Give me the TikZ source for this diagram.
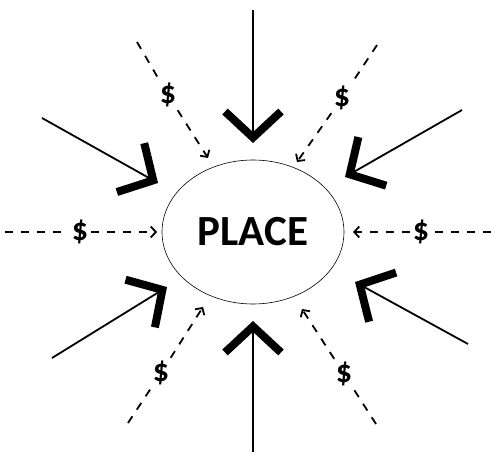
\documentclass[tikz,border=0pt]{standalone}
\usepackage{fontspec}
\setmainfont{Carlito}
\usetikzlibrary{arrows.meta,shapes.geometric}

\begin{document}
\begin{tikzpicture}[
    x=1pt, y=-1pt,
    flow/.style={line width=1.8pt, -{Straight Barb[sharp, length=26pt, width=56pt, line width=8pt]}},
    cash/.style={line width=1.8pt, dash pattern=on 8pt off 8pt, -{Straight Barb[length=5pt, width=11pt, line width=1.8pt]}},
    money/.style={font=\fontsize{32}{32}\selectfont\bfseries, inner sep=3pt}
]
\useasboundingbox (0,0) rectangle (491,452);

\node[draw, ellipse, line width=0.6pt, minimum width=182pt, minimum height=144pt,
      font=\fontsize{43}{43}\selectfont\bfseries] (place) at (253,232) {PLACE};

% solid flows
\coordinate (topS) at (253,10);   \coordinate (topT) at (253,143);
\coordinate (botS) at (253,452);  \coordinate (botT) at (253,321);
\coordinate (ulS) at (42,118);    \coordinate (ulT) at (158,183);
\coordinate (urS) at (462,110);   \coordinate (urT) at (345,177);
\coordinate (llS) at (52,358);    \coordinate (llT) at (167,287);
\coordinate (lrS) at (468,344);   \coordinate (lrT) at (355,282);

\draw[flow] (topS) -- (topT);
\draw[flow] (botS) -- (botT);
\draw[flow] (ulS) -- (ulT);
\draw[flow] (urS) -- (urT);
\draw[flow] (llS) -- (llT);
\draw[flow] (lrS) -- (lrT);

% money flows
\coordinate (lS) at (5,232);     \node[money] (dl) at (80,232) {\$};   \coordinate (lT) at (157,232);
\coordinate (rS) at (491,232);   \node[money] (dr) at (421,232) {\$};  \coordinate (rT) at (353,232);
\coordinate (ulmS) at (137,42);  \node[money] (dul) at (168,95) {\$};  \coordinate (ulmT) at (208,158);
\coordinate (urmS) at (377,45);  \node[money] (dur) at (342,98) {\$};  \coordinate (urmT) at (297,162);
\coordinate (llmS) at (128,423); \node[money] (dll) at (161,373) {\$}; \coordinate (llmT) at (203,307);
\coordinate (lrmS) at (376,424); \node[money] (dlr) at (344,374) {\$}; \coordinate (lrmT) at (302,309);

\draw[cash, -] (lS) -- (dl);     \draw[cash] (dl) -- (lT);
\draw[cash, -] (rS) -- (dr);     \draw[cash] (dr) -- (rT);
\draw[cash, -] (ulmS) -- (dul);  \draw[cash] (dul) -- (ulmT);
\draw[cash, -] (urmS) -- (dur);  \draw[cash] (dur) -- (urmT);
\draw[cash, -] (llmS) -- (dll);  \draw[cash] (dll) -- (llmT);
\draw[cash, -] (lrmS) -- (dlr);  \draw[cash] (dlr) -- (lrmT);
\end{tikzpicture}
\end{document}
